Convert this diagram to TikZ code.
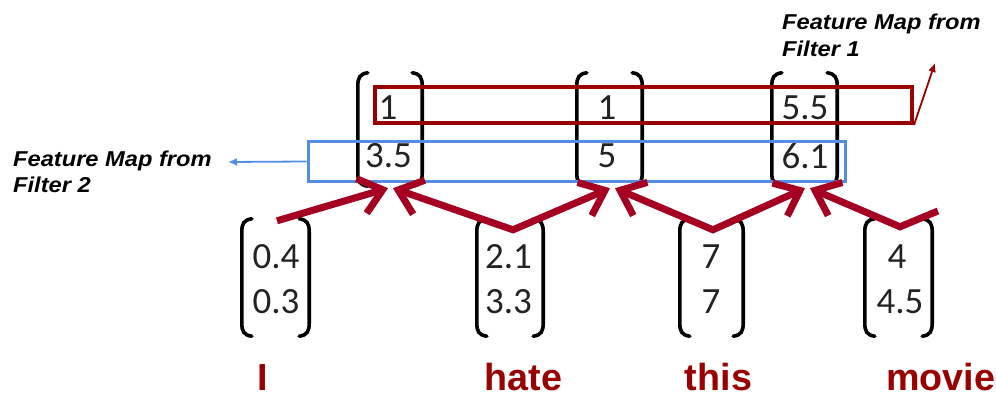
\documentclass[tikz,border=0pt]{standalone}
\usepackage{fontspec}
\setmainfont{Liberation Sans}
\newfontfamily\numfont{Carlito}
\usetikzlibrary{arrows.meta,calc}
\definecolor{wordred}{RGB}{153,0,0}
\definecolor{arrred}{RGB}{165,0,33}
\definecolor{boxred}{RGB}{153,0,0}
\definecolor{boxblue}{RGB}{84,141,230}
\definecolor{numgray}{RGB}{35,35,35}
\tikzset{
  num/.style={font=\numfont\fontsize{37}{37}\selectfont, text=numgray, inner sep=0pt},
  word/.style={font=\bfseries\fontsize{37.7}{40}\selectfont, text=wordred, inner sep=0pt, anchor=base},
  lab/.style={font=\bfseries\itshape\fontsize{21.5}{27}\selectfont, align=left, inner sep=0pt, anchor=base west},
  matarea/.style={inner sep=0pt, minimum height=#1},
  brk/.style={line width=3.6pt, black, line cap=round},
  fmbox/.style={draw, inner sep=0pt},
  thick arrow/.style={draw=arrred, line width=7pt, line join=miter,
    arrows={-{Straight Barb[length=22pt,width=36pt]}}},
  thin arrow/.style={line width=1.8pt, -{Latex[length=9pt,width=8pt]}},
}
\newcommand\parbrackets[1]{%
  \draw[brk] ($(#1.north west)+(10,0)$) .. controls ($(#1.north west)+(2,1)$) and ($(#1.north west)+(0,5)$) .. ($(#1.north west)+(0,13)$)
    -- ($(#1.south west)+(0,-13)$) .. controls ($(#1.south west)+(0,-5)$) and ($(#1.south west)+(2,-1)$) .. ($(#1.south west)+(10,0)$);
  \draw[brk] ($(#1.north east)+(-10,0)$) .. controls ($(#1.north east)+(-2,1)$) and ($(#1.north east)+(0,5)$) .. ($(#1.north east)+(0,13)$)
    -- ($(#1.south east)+(0,-13)$) .. controls ($(#1.south east)+(0,-5)$) and ($(#1.south east)+(-2,-1)$) .. ($(#1.south east)+(-10,0)$);
}
\begin{document}
\begin{tikzpicture}[x=1pt,y=-1pt]
\useasboundingbox (0,0) rectangle (996,393);
% matrix areas
\node[matarea=113pt, minimum width=64pt] (T1) at (390,129.5) {};
\node[matarea=113pt, minimum width=65pt] (T2) at (609.5,129.5) {};
\node[matarea=113pt, minimum width=65pt] (T3) at (804.5,129.5) {};
\node[matarea=117pt, minimum width=67pt] (B1) at (275.5,277.5) {};
\node[matarea=117pt, minimum width=66pt] (B2) at (510,277.5) {};
\node[matarea=117pt, minimum width=63pt] (B3) at (711.5,277.5) {};
\node[matarea=117pt, minimum width=67pt] (B4) at (898.5,277.5) {};
\parbrackets{T1}\parbrackets{T2}\parbrackets{T3}
\parbrackets{B1}\parbrackets{B2}\parbrackets{B3}\parbrackets{B4}
% entries
\node[num] (t1a) at (388,108) {1};
\node[num] (t1b) at (388.5,156) {3.5};
\node[num] (t2a) at (607,108) {1};
\node[num] (t2b) at (607,156) {5};
\node[num] (t3a) at (805,108) {5.5};
\node[num] (t3b) at (805,156) {6.1};
\node[num] (b1a) at (276,257) {0.4};
\node[num] (b1b) at (276,302) {0.3};
\node[num] (b2a) at (508.5,257) {2.1};
\node[num] (b2b) at (508.5,302) {3.3};
\node[num] (b3a) at (711,257) {7};
\node[num] (b3b) at (711,302) {7};
\node[num] (b4a) at (897,257) {4};
\node[num] (b4b) at (900,302) {4.5};
% feature map boxes
\node[fmbox, draw=boxred, line width=4pt, minimum width=537pt, minimum height=36pt] (fm1) at (643.5,105) {};
\node[fmbox, draw=boxblue, line width=3pt, minimum width=537pt, minimum height=39pt] (fm2) at (576.5,161.5) {};
% labels (base = baseline of the last line)
\node[lab] (lab1) at (782,57) {\scalebox{1.1}[1]{Feature Map from}\\\scalebox{1.1}[1]{Filter 1}};
\node[lab] (lab2) at (13,193) {\scalebox{1.1}[1]{Feature Map from}\\\scalebox{1.1}[1]{Filter 2}};
\coordinate (a1) at (935,63);
\coordinate (a2) at (228,162);
\draw[thin arrow, draw=boxred, fill=boxred] (fm1.south east) -- (a1);
\draw[thin arrow, draw=boxblue, fill=boxblue] (fm2.west) -- (a2);
% thick arrows
\coordinate (end4) at (938,211);
\draw[thick arrow] ($(B1.north)+(1.5,2)$) -- ($(T1.south)+(-2,2)$);
\draw[thick arrow, arrows={{Straight Barb[length=22pt,width=36pt]}-{Straight Barb[length=22pt,width=36pt]}}] ($(T1.south)+(3,2)$) -- ($(B2.north)+(3,11)$) -- ($(T2.south)+(0.5,2)$);
\draw[thick arrow, arrows={{Straight Barb[length=22pt,width=36pt]}-{Straight Barb[length=22pt,width=36pt]}}] ($(T2.south)+(5.5,2)$) -- ($(B3.north)+(1.5,11)$) -- ($(T3.south)+(0.5,2)$);
\draw[thick arrow, arrows={{Straight Barb[length=22pt,width=36pt]}-}] ($(T3.south)+(5.5,2)$) -- ($(B4.north)+(1.5,8)$) -- (end4);
% words
\node[word] (w1) at (263,390.5) {I};
\node[word] (w2) at (523.5,390.5) {hate};
\node[word] (w3) at (718.5,390.5) {this};
\node[word] (w4) at (940.5,390.5) {movie};
\end{tikzpicture}
\end{document}
